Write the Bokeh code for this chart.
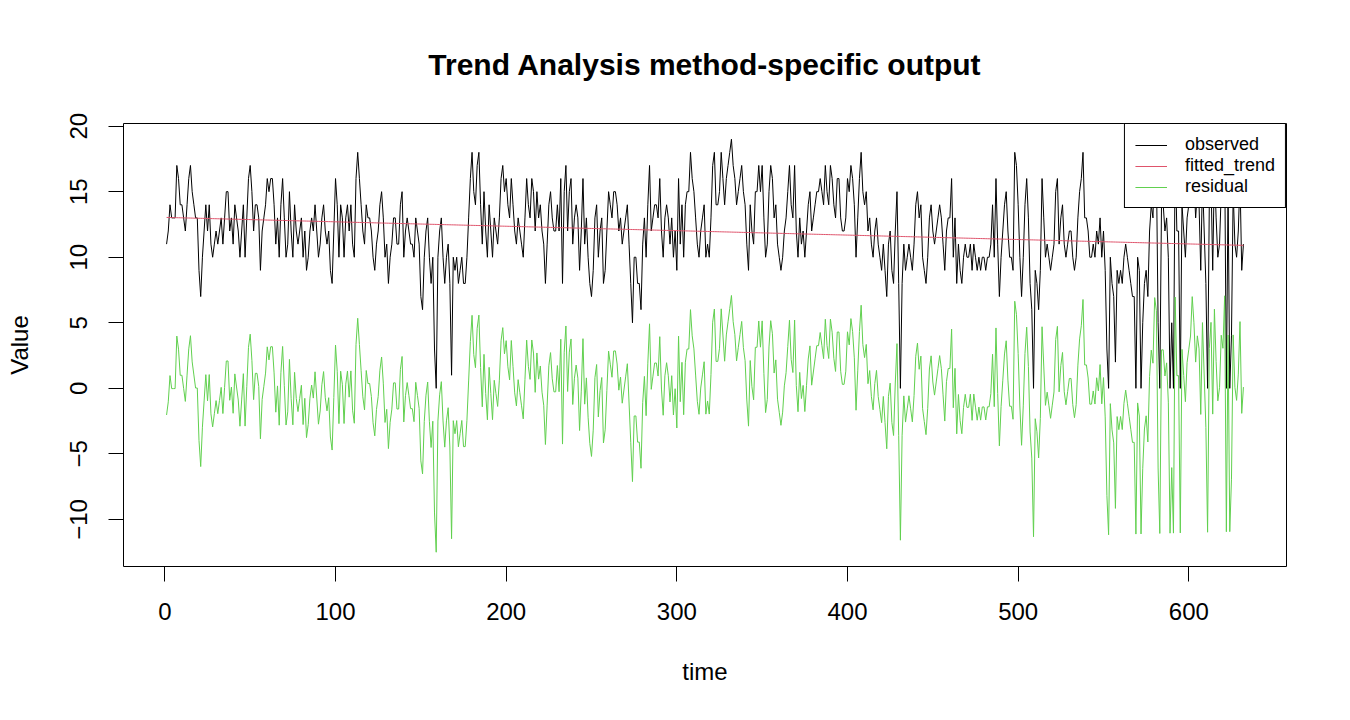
import numpy as np
from bokeh.plotting import figure
from bokeh.models import Range1d, FixedTicker, Legend, LegendItem
from bokeh.embed import file_html
from bokeh.resources import INLINE

# ---- data ----
observed = [
    # t 1-114
    11,12,14,13,13,13,17,16,14,14,13,12,14,16,17,15,14,13,13,9,
    7,10,12,14,12,14,11,10,11,12,11,12,13,11,13,15,15,12,13,11,
    14,13,12,10,12,14,10,13,16,17,15,12,14,14,13,9,12,13,14,16,
    15,16,16,14,11,13,10,14,16,13,10,11,15,12,10,14,12,11,12,13,
    10,12,9,10,12,13,12,14,12,10,11,13,14,12,11,12,9,8,12,16,
    14,10,14,13,10,13,14,12,14,11,10,16,18,16,
    # t 115-228
    14,12,11,14,13,13,12,10,9,11,12,14,15,13,10,11,8,10,11,13,
    13,11,11,14,15,10,12,13,12,11,11,10,13,12,
    11,7,6,10,12,13,10,8,10,3,0,
    10,12,13,10,8,10,11,8,1,
    10,9,10,8,9,10,8,8,10,13,16,18,
    15,14,17,18,14,11,15,12,10,14,12,10,13,12,11,13,16,17,15,16,
    14,13,16,14,12,11,13,12,11,10,13,16,14,13,16,15,12,15,13,14,
    12,11,8,11,14,15,13,12,
    # t 229-343
    12,14,12,16,8,15,17,12,15,16,11,13,14,13,9,12,16,11,13,10,
    8,7,9,13,14,10,12,13,8,9,12,15,14,13,15,15,14,12,13,11,
    12,13,14,11,8,5,10,10,8,8,6,11,13,10,14,17,12,13,14,14,
    13,16,12,10,13,14,13,11,13,10,12,9,16,11,14,10,14,15,15,18,
    16,15,13,11,10,12,13,14,10,11,10,13,17,18,14,14,15,18,16,14,
    16,17,18,19,17,16,14,15,16,17,15,14,11,9,14,
    # t 344-430
    12,11,15,15,17,15,17,13,10,11,15,17,16,13,14,11,10,9,10,12,
    13,15,17,14,13,17,12,10,13,11,12,10,12,14,15,12,13,14,15,15,
    16,15,14,17,15,14,17,16,14,13,16,16,13,12,12,13,16,15,17,16,
    14,10,13,16,18,15,14,15,12,13,11,10,12,13,11,10,9,11,9,7,
    11,12,9,8,12,15,8,
    # t 431
    0,
    # t 432-459
    8,11,9,10,11,10,9,11,14,15,13,14,10,9,8,10,13,14,12,11,
    12,13,14,13,11,9,12,13,
    # t 460-575
    13,16,10,13,8,11,9,8,10,11,10,10,11,9,11,10,9,10,9,10,
    10,9,10,10,11,14,10,16,11,7,10,12,14,15,12,10,10,9,18,17,
    14,10,7,10,14,16,13,8,6,0,9,8,6,9,16,13,10,11,10,9,
    10,11,15,16,11,13,14,11,10,11,12,12,10,9,10,13,15,16,18,13,
    13,12,10,10,11,10,12,11,13,10,12,9,3,0,10,8,7,2,9,8,
    9,8,10,11,10,9,8,7,7,0,10,9,0,5,8,9,
    # t 576-632
    7,12,14,13,18,17,5,0,14,14,12,13,10,0,5,0,18,12,12,0,
    14,12,10,13,14,15,18,16,13,15,14,9,16,12,8,0,14,16,9,17,
    13,10,11,15,14,18,0,15,0,4,15,11,10,12,16,9,11,
]
time = list(range(1, len(observed) + 1))

x_ticks = [0, 100, 200, 300, 400, 500, 600]
y_ticks = [-10, -5, 0, 5, 10, 15, 20]
series_labels = ["observed", "fitted_trend", "residual"]
series_colors = ["#000000", "#DF536B", "#61D04F"]

# fitted linear trend of the observed series, and its residual
obs = np.array(observed, dtype=float)
t = np.array(time, dtype=float)
slope, intercept = np.polyfit(t, obs, 1)
fitted_trend = intercept + slope * t
residual = obs - fitted_trend

FONT = "Liberation Sans"

p = figure(width=1334, height=704, output_backend="svg", toolbar_location=None,
           x_range=Range1d(-24.24, 657.24), y_range=Range1d(-13.59, 20.2),
           min_border_left=123, min_border_right=48, min_border_top=123,
           min_border_bottom=138,
           title="Trend Analysis method-specific output")
p.grid.visible = False
p.outline_line_color = "black"
p.outline_line_width = 1
p.outline_line_alpha = 1.0
p.background_fill_color = "white"
p.border_fill_color = "white"

p.title.text_font = FONT
p.title.text_font_size = "30px"
p.title.text_font_style = "bold"
p.title.text_color = "black"
p.title.align = "center"
p.title.standoff = 86

for ax in (p.xaxis[0], p.yaxis[0]):
    ax.major_tick_out = 15
    ax.major_tick_in = 0
    ax.minor_tick_out = 0
    ax.minor_tick_in = 0
    ax.axis_line_color = "black"
    ax.major_tick_line_color = "black"
    ax.major_label_text_font = FONT
    ax.major_label_text_font_size = "24px"
    ax.major_label_text_color = "black"
    ax.major_label_standoff = 21
    ax.axis_label_text_font = FONT
    ax.axis_label_text_font_size = "24px"
    ax.axis_label_text_font_style = "normal"
    ax.axis_label_text_color = "black"
    ax.axis_label_standoff = 35

p.xaxis.ticker = FixedTicker(ticks=x_ticks)
p.xaxis.bounds = (x_ticks[0], x_ticks[-1])
p.yaxis.ticker = FixedTicker(ticks=y_ticks)
p.yaxis.bounds = (y_ticks[0], y_ticks[-1])
p.yaxis.major_label_orientation = "vertical"
p.xaxis.axis_label = "time"
p.yaxis.axis_label = "Value"

r_obs = p.line(time, observed, line_color=series_colors[0], line_width=1)
r_trend = p.line(time, fitted_trend, line_color=series_colors[1], line_width=1)
r_res = p.line(time, residual, line_color=series_colors[2], line_width=1)

legend = Legend(items=[LegendItem(label=series_labels[0], renderers=[r_obs]),
                       LegendItem(label=series_labels[1], renderers=[r_trend]),
                       LegendItem(label=series_labels[2], renderers=[r_res])],
                location="top_right")
legend.margin = 0
legend.padding = 10
legend.spacing = 0
legend.label_height = 20
legend.glyph_height = 20
legend.glyph_width = 32
legend.label_standoff = 18
legend.label_text_font = FONT
legend.label_text_font_size = "18px"
legend.label_text_color = "black"
legend.border_line_color = "black"
legend.border_line_width = 1
legend.border_line_alpha = 1.0
legend.background_fill_color = "white"
legend.background_fill_alpha = 1.0
p.add_layout(legend)

open("out.html", "w").write(file_html(p, INLINE))
